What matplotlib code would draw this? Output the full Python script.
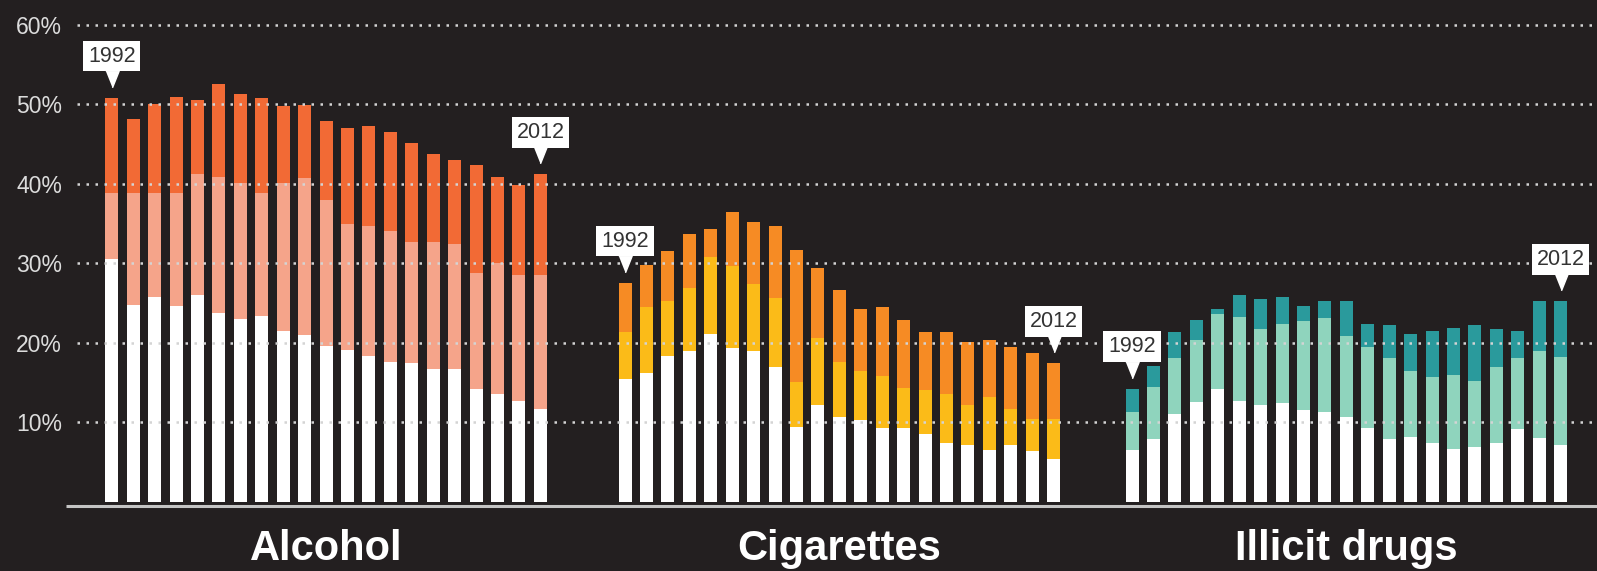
import matplotlib.pyplot as plt
import numpy as np

# grupos e anos
grupos = ["Alcohol", "Cigarettes", "Illicit drugs"]
anos = list(range(1992, 2013))

# valores acumulados (%): base branca, meio, total
alc_branco = [30.5, 24.8, 25.7, 24.6, 26.0, 23.8, 23.0, 23.4, 21.5, 21.0, 19.6,
              19.1, 18.3, 17.6, 17.5, 16.7, 16.7, 14.2, 13.6, 12.6, 11.7]
alc_meio = [38.8, 38.8, 38.8, 38.8, 41.2, 40.9, 40.1, 38.8, 40.1, 40.8, 38.0,
            34.9, 34.7, 34.1, 32.7, 32.7, 32.4, 28.8, 30.0, 28.5, 28.5]
alc_total = [50.8, 48.2, 50.0, 51.0, 50.6, 52.6, 51.3, 50.8, 49.8, 49.9, 47.9,
             47.0, 47.3, 46.5, 45.1, 43.8, 43.0, 42.4, 40.9, 39.9, 41.2]

cig_branco = [15.4, 16.2, 18.3, 18.9, 21.1, 19.3, 18.9, 17.0, 9.4, 12.2, 10.6,
              10.3, 9.2, 9.2, 8.5, 7.4, 7.1, 6.5, 7.1, 6.3, 5.3]
cig_meio = [21.4, 24.5, 25.2, 26.9, 30.8, 29.7, 27.4, 25.6, 15.1, 20.6, 17.6,
            16.4, 15.8, 14.3, 14.1, 13.5, 12.2, 13.2, 11.6, 10.4, 10.4]
cig_total = [27.5, 29.8, 31.5, 33.7, 34.3, 36.4, 35.2, 34.7, 31.7, 29.4, 26.7,
             24.3, 24.5, 22.8, 21.4, 21.4, 20.1, 20.3, 19.4, 18.7, 17.4]

ill_branco = [6.5, 7.9, 11.0, 12.5, 14.2, 12.6, 12.2, 12.4, 11.5, 11.3, 10.7,
              9.2, 7.9, 8.1, 7.4, 6.6, 6.9, 7.4, 9.1, 8.0, 7.1]
ill_meio = [11.3, 14.4, 18.1, 20.4, 23.6, 23.2, 21.7, 22.4, 22.7, 23.1, 20.8,
            19.5, 18.1, 16.4, 15.7, 15.9, 15.2, 17.0, 18.1, 18.9, 18.2]
ill_total = [14.2, 17.1, 21.4, 22.8, 24.3, 26.0, 25.5, 25.8, 24.6, 25.3, 25.2,
             22.4, 22.2, 21.1, 21.5, 21.8, 22.2, 21.7, 21.5, 25.2, 25.2]

yticks = [10, 20, 30, 40, 50, 60]
ytick_labels = ["10%", "20%", "30%", "40%", "50%", "60%"]

fundo = "#231f20"
cores = [("#f26a35", "#f5a48a"), ("#f68b24", "#fbbb18"), ("#2a9a9c", "#8fd4bd")]
series = [(alc_branco, alc_meio, alc_total),
          (cig_branco, cig_meio, cig_total),
          (ill_branco, ill_meio, ill_total)]

# layout em pixels
inicio = [111.8, 625, 1132]
passo = 21.43
largura = 13

plt.rcParams['font.family'] = ['Liberation Sans', 'DejaVu Sans']

fig = plt.figure(figsize=(15.97, 5.71), dpi=100, facecolor=fundo)
ax = fig.add_axes([0, 64 / 571, 1, 507 / 571])
ax.set_facecolor(fundo)
ax.set_xlim(0, 1597)
ax.set_ylim(-0.69, 63.16)

centros = []
for g in range(3):
    x = inicio[g] + passo * np.arange(len(anos))
    branco, meio, total = series[g]
    ax.bar(x, total, width=largura, color=cores[g][0], zorder=2)
    ax.bar(x, meio, width=largura, color=cores[g][1], zorder=2)
    ax.bar(x, branco, width=largura, color="white", zorder=2)
    centros.append((x[0] + x[-1]) / 2)

    # etiquetas 1992 e 2012
    for k in [0, len(anos) - 1]:
        topo = total[k]
        ax.plot(x[k], topo + 2.4, marker=[(-0.4, 0.5), (0.4, 0.5), (0, -0.5)],
                markersize=12, color="white", zorder=5)
        ax.text(x[k], topo + 5.3, str(anos[k]), ha="center", va="center",
                fontsize=15.5, color="#333333", zorder=6,
                bbox=dict(boxstyle="square,pad=0.22", fc="white", ec="none"))

# linhas pontilhadas
ax.hlines(yticks, 77, 1597, colors="#d4d4d4", linewidth=1.8,
          linestyles=(0, (1, 2.6)), zorder=4)
# linha de base
ax.hlines(-0.62, 66, 1597, colors="#c4c4c4", linewidth=2.2, zorder=4, clip_on=False)

ax.set_yticks(yticks)
ax.set_yticklabels(ytick_labels)
ax.tick_params(axis="y", length=0, pad=-44.6, labelsize=16.5, labelcolor="#dcdcdc")
for lab in ax.get_yticklabels():
    lab.set_horizontalalignment("right")

ax.set_xticks(centros)
ax.set_xticklabels(grupos)
ax.tick_params(axis="x", length=0, pad=16, labelsize=30, labelcolor="white")
for lab in ax.get_xticklabels():
    lab.set_fontweight("bold")

for s in ax.spines.values():
    s.set_visible(False)

plt.savefig("out.png", dpi=100, facecolor=fundo)
